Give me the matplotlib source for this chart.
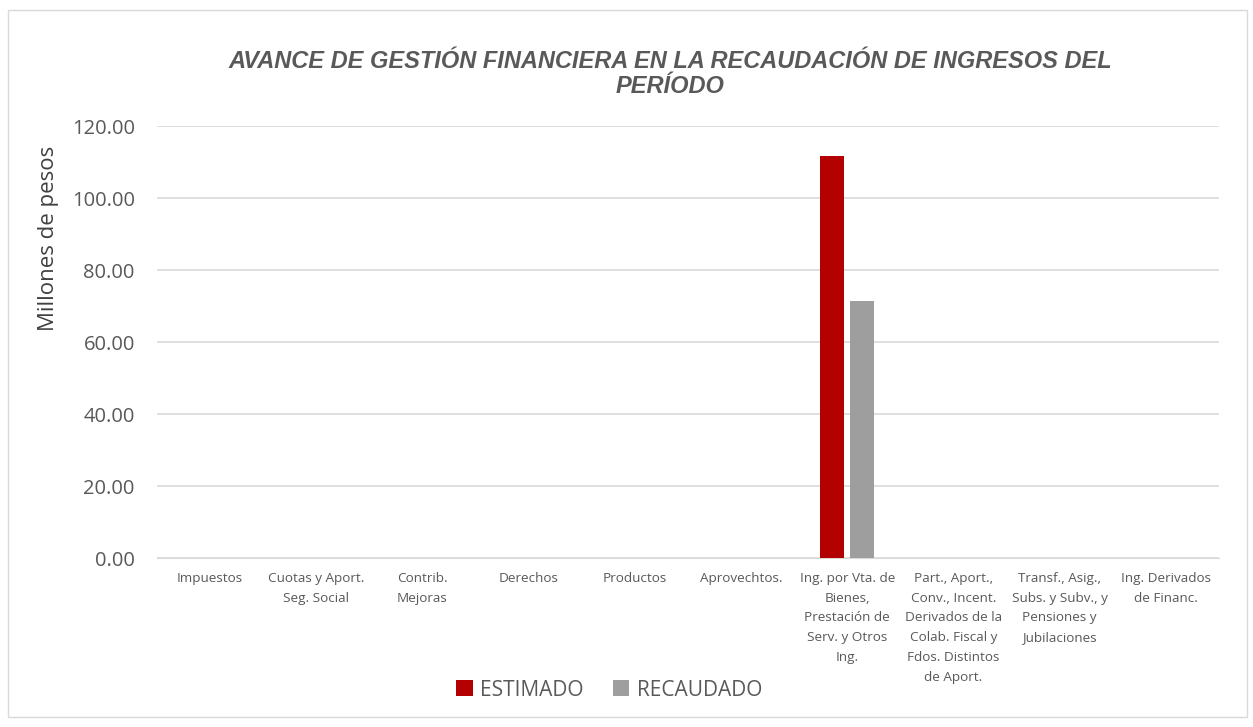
import matplotlib.pyplot as plt
from matplotlib.patches import Rectangle
import numpy as np

categorias = [
    "Impuestos",
    "Cuotas y Aport.\nSeg. Social",
    "Contrib.\nMejoras",
    "Derechos",
    "Productos",
    "Aprovechtos.",
    "Ing. por Vta. de\nBienes,\nPrestación de\nServ. y Otros\nIng.",
    "Part., Aport.,\nConv., Incent.\nDerivados de la\nColab. Fiscal y\nFdos. Distintos\nde Aport.",
    "Transf., Asig.,\nSubs. y Subv., y\nPensiones y\nJubilaciones",
    "Ing. Derivados\nde Financ.",
]
estimado = [0, 0, 0, 0, 0, 0, 111.7, 0, 0, 0]
recaudado = [0, 0, 0, 0, 0, 0, 71.4, 0, 0, 0]
y_ticks = [0, 20, 40, 60, 80, 100, 120]

plt.rcParams['font.family'] = ['Open Sans', 'DejaVu Sans']

fig = plt.figure(figsize=(12.53, 7.27), dpi=100)
ax = fig.add_axes([157 / 1253, 1 - 558 / 727, (1219 - 157) / 1253, (558 - 126) / 727])

fig.patches.append(Rectangle((8 / 1253, 10 / 727), 1239 / 1253, 707 / 727,
                             transform=fig.transFigure, fill=False,
                             edgecolor='#d9d9d9', linewidth=1))

x = np.arange(len(categorias))
w = 0.226
gap = 0.056
ax.bar(x - (w + gap) / 2, estimado, w, color='#b30000', label='ESTIMADO', zorder=3)
ax.bar(x + (w + gap) / 2, recaudado, w, color='#9e9e9e', label='RECAUDADO', zorder=3)

ax.set_xlim(-0.5, len(categorias) - 0.5)
ax.set_ylim(0, 120)
ax.set_yticks(y_ticks)
ax.set_yticklabels([f"{v:.2f}" for v in y_ticks], fontsize=14.5, color='#595959')
ax.set_xticks(x)
ax.set_xticklabels(categorias, fontsize=9.7, color='#595959', linespacing=1.68, va='top')
ax.tick_params(axis='both', length=0)
ax.tick_params(axis='x', pad=10)
ax.tick_params(axis='y', pad=16)
ax.grid(axis='y', color='#d9d9d9', linewidth=1.2, zorder=0)
for s in ['top', 'right', 'left']:
    ax.spines[s].set_visible(False)
ax.spines['bottom'].set_color('#d9d9d9')

ax.set_ylabel("Millones de pesos", fontsize=16, color='#404040')
ax.yaxis.set_label_coords((59 - 157) / 1062, (558 - 238) / 432)

fig.text(0.535, 1 - 74 / 727,
         "AVANCE DE GESTIÓN FINANCIERA EN LA RECAUDACIÓN DE INGRESOS DEL\nPERÍODO",
         ha='center', va='center', fontsize=17, fontweight='bold', fontstyle='italic',
         color='#595959', family=['Liberation Sans', 'DejaVu Sans'], linespacing=1.12)

fig.legend(loc='center', bbox_to_anchor=(609 / 1253, 1 - 690 / 727), ncol=2,
           frameon=False, fontsize=15, handlelength=0.8, handleheight=0.8,
           handletextpad=0.35, columnspacing=1.4, labelcolor='#595959')

fig.savefig("out.png", dpi=100)
